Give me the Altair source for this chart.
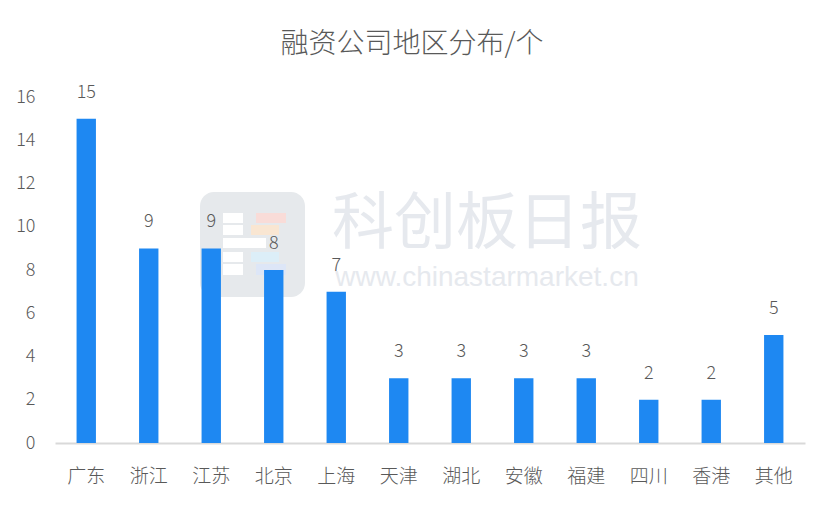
import altair as alt
import pandas as pd

regions = ["广东", "浙江", "江苏", "北京", "上海", "天津", "湖北", "安徽", "福建", "四川", "香港", "其他"]
counts = [15, 9, 9, 8, 7, 3, 3, 3, 3, 2, 2, 5]
y_ticks = [0, 2, 4, 6, 8, 10, 12, 14, 16]
title_text = "融资公司地区分布/个"
wm_cn = "科创板日报"
wm_url = "www.chinastarmarket.cn"

df = pd.DataFrame({"region": regions, "count": counts})
one = pd.DataFrame({"k": [0]})

FONT = "Noto Sans CJK SC"
GRAY = "#595959"
OX, OY = 55, 97  # plot origin on page, for decorative watermark placement


def deco_rect(x1, y1, x2, y2, color, opacity=1.0, radius=0):
    return alt.Chart(one).mark_rect(color=color, opacity=opacity, cornerRadius=radius).encode(
        x=alt.value(x1 - OX), x2=alt.value(x2 - OX), y=alt.value(y1 - OY), y2=alt.value(y2 - OY))


x_enc = alt.X("region:N", sort=regions, title=None,
              scale=alt.Scale(paddingInner=0.69, paddingOuter=0.345),
              axis=alt.Axis(labelAngle=0, labelFontSize=19, labelColor=GRAY, labelFont=FONT,
                            labelFontWeight=300, tickSize=0, labelPadding=24,
                            domainColor="#D9D9D9", domainWidth=2))
y_enc = alt.Y("count:Q", title=None,
              scale=alt.Scale(domain=[0, 16]),
              axis=alt.Axis(values=y_ticks, labelFontSize=18, labelColor=GRAY, labelFont=FONT,
                            labelFontWeight=300, domain=False, ticks=False, grid=False, labelPadding=20))

bars = alt.Chart(df).mark_bar(color="#1E88F2").encode(x=x_enc, y=y_enc)
labels = alt.Chart(df).mark_text(fontSize=18, color=GRAY, font=FONT, fontWeight=300,
                                 baseline="middle", dy=-26).encode(
    x=alt.X("region:N", sort=regions), y="count:Q", text="count:Q")

logo_parts = [
    deco_rect(200, 192, 305, 297, "#E6E9EC", 1.0, 14),
    deco_rect(223, 213, 243, 223, "#FFFFFF"),
    deco_rect(223, 225, 243, 235, "#FFFFFF"),
    deco_rect(223, 238, 266, 248, "#FFFFFF"),
    deco_rect(223, 252, 243, 262, "#FFFFFF"),
    deco_rect(223, 264, 243, 275, "#FFFFFF"),
    deco_rect(256, 213, 286, 223, "#F9DCD8"),
    deco_rect(251, 225, 279, 235, "#F9E6D2"),
    deco_rect(251, 252, 279, 262, "#DCEEF8"),
    deco_rect(256, 264, 286, 275, "#DDE6F7"),
]
wm1 = alt.Chart(one).mark_text(text=wm_cn, fontSize=62, font=FONT, color="#E6E9EE",
                               baseline="middle", align="center").encode(x=alt.value(432), y=alt.value(128))
wm2 = alt.Chart(one).mark_text(text=wm_url, fontSize=28, font="Liberation Sans", color="#E6E9EE",
                               baseline="middle", align="center").encode(x=alt.value(432), y=alt.value(181))
title = alt.Chart(one).mark_text(text=title_text, fontSize=28, font=FONT, fontWeight=300, color=GRAY,
                                 baseline="middle", align="center").encode(x=alt.value(357), y=alt.value(-52))

chart = alt.layer(*logo_parts, wm1, wm2, bars, labels, title).properties(
    width=750, height=346,
    autosize=alt.AutoSizeParams(type="none"),
    padding={"left": 47, "top": 89, "right": 14, "bottom": 50},
).configure_view(stroke=None)

chart.save("out.html", embed_options={"renderer": "svg", "actions": False})
